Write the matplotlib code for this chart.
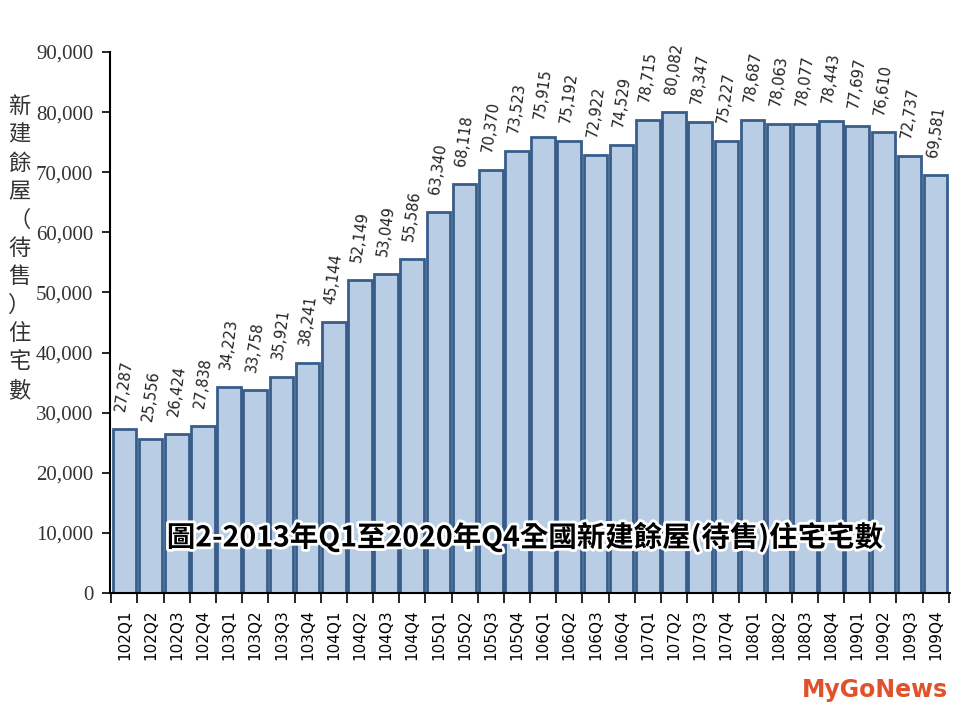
import matplotlib.pyplot as plt
import matplotlib.patheffects as pe
from matplotlib.ticker import FuncFormatter

quarters = [f'{y}Q{q}' for y in range(102, 110) for q in range(1, 5)]
units = [27287, 25556, 26424, 27838, 34223, 33758, 35921, 38241,
         45144, 52149, 53049, 55586, 63340, 68118, 70370, 73523,
         75915, 75192, 72922, 74529, 78715, 80082, 78347, 75227,
         78687, 78063, 78077, 78443, 77697, 76610, 72737, 69581]
ylabel_text = '新\n建\n餘\n屋\n（\n待\n售\n）\n住\n宅\n數'
title_text = '圖2-2013年Q1至2020年Q4全國新建餘屋(待售)住宅宅數'

plt.rcParams['font.family'] = ['DejaVu Sans', 'Noto Sans CJK TC']

fig = plt.figure(figsize=(9.6, 7.2), dpi=100)
ax = fig.add_axes([0.1146, 0.1764, 0.875, 0.7514])

x = range(len(units))
ax.bar(x, units, width=0.9, color='#b9cde5', edgecolor='#385d8a', linewidth=2)

# value labels, tilted, a little above each bar
for i, v in enumerate(units):
    ax.text(i, v + 2800, f'{v:,}', rotation=82, ha='center', va='bottom',
            fontsize=10.5, color='#222222', clip_on=False)

ax.set_xlim(-0.55, len(units) - 0.45)
ax.set_ylim(0, 90000)
ax.set_yticks(range(0, 90001, 10000))
ax.yaxis.set_major_formatter(FuncFormatter(lambda v, p: f'{int(v):,}'))
ax.tick_params(axis='y', direction='out', length=6, width=1.2, pad=6,
               labelfontfamily='Liberation Serif', labelsize=15,
               labelcolor='#333333')

ax.set_xticks(list(x))
ax.set_xticklabels(quarters, rotation=90, fontsize=11)
ax.set_xticks([i - 0.5 for i in range(len(units) + 1)], minor=True)
ax.tick_params(axis='x', which='major', length=0, pad=12)
ax.tick_params(axis='x', which='minor', direction='out', length=7, width=1.2)

ax.spines['top'].set_visible(False)
ax.spines['right'].set_visible(False)
ax.spines['left'].set_linewidth(1.5)
ax.spines['bottom'].set_linewidth(1.5)

fig.text(0.02, 0.655, ylabel_text, family='Noto Sans CJK TC', fontsize=16,
         ha='center', va='center', linespacing=1.3, color='#333333')

fig.text(0.547, 0.254, title_text, family='Noto Sans CJK TC', fontweight='bold',
         fontsize=20.5, ha='center', va='center', color='black',
         path_effects=[pe.withStroke(linewidth=4, foreground='white')])

fig.text(0.988, 0.042, 'MyGoNews', fontsize=17, fontweight='bold',
         color='#e0522b', ha='right', va='center')

fig.savefig('out.png', dpi=100)
